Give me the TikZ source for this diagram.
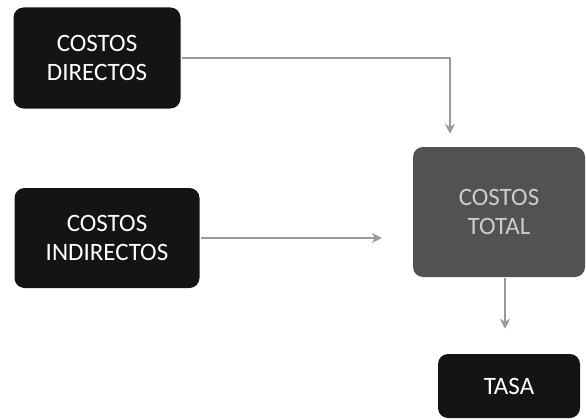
\documentclass[tikz,border=0pt]{standalone}
\usepackage{fontspec}
\setmainfont{Carlito}
\usetikzlibrary{arrows.meta,positioning}

\begin{document}
\begin{tikzpicture}[x=1pt,y=-1pt,>={Stealth[length=10pt,width=10pt]},line width=2.5pt,font=\fontsize{25}{29}\selectfont]
  \tikzset{box/.style={rounded corners=10pt,fill=black!92,text=white,align=center,inner sep=0pt},
           flow/.style={->,draw=black!40}}
  \useasboundingbox (0,0) rectangle (586,420);
  \node[box,minimum width=167pt,minimum height=101pt] (dir)   at (97,58)   {COSTOS\\DIRECTOS};
  \node[box,minimum width=185pt,minimum height=100pt] (ind)   at (107,238) {COSTOS\\INDIRECTOS};
  \node[box,fill=black!68,text=black!20,minimum width=172pt,minimum height=130pt] (total) at (499,212) {COSTOS\\TOTAL};
  \node[box,minimum width=142pt,minimum height=64pt] (tasa)  at (509,386) {TASA};
  \draw[flow,shorten >=12pt] (dir.east) -| ([xshift=-49pt]total.north);
  \draw[flow,shorten >=30pt] (ind.east) -- (ind.east -| total.west);
  \draw[flow,shorten >=24pt] ([xshift=6pt]total.south) -- ([xshift=6pt]total.south |- tasa.north);
\end{tikzpicture}
\end{document}
